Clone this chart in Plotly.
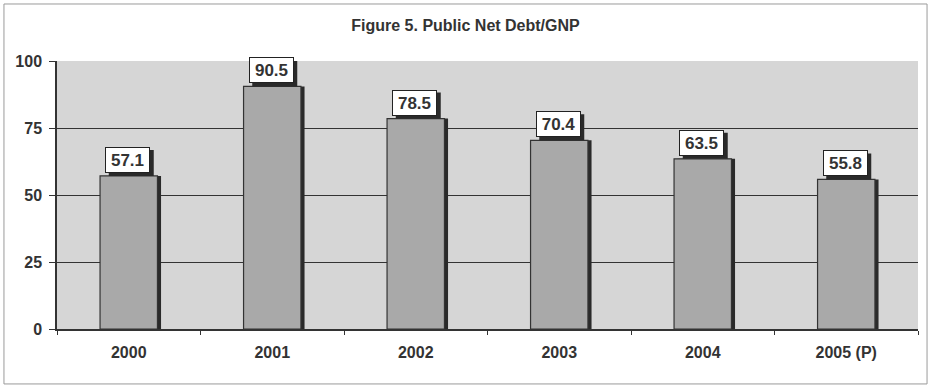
import plotly.graph_objects as go

years = ["2000", "2001", "2002", "2003", "2004", "2005 (P)"]
debt_ratio = [57.1, 90.5, 78.5, 70.4, 63.5, 55.8]
y_ticks = [0, 25, 50, 75, 100]

BAR_W = 0.4
FONT = "Arial, Liberation Sans, sans-serif"
INK = "#333333"
pos = list(range(len(years)))

fig = go.Figure()

# dark offset copy of each bar gives the shaded right edge
fig.add_trace(go.Bar(
    x=pos, y=debt_ratio, width=BAR_W, offset=-BAR_W / 2 + 0.025,
    marker=dict(color="#2a2a2a", line=dict(width=0)),
    hoverinfo="skip", showlegend=False,
))
fig.add_trace(go.Bar(
    x=pos, y=debt_ratio, width=BAR_W, offset=-BAR_W / 2,
    marker=dict(color="#a9a9a9", line=dict(color=INK, width=1.2)),
    showlegend=False,
))

# value boxes above each bar: a dark shadow shape, then a white boxed label
for p, v in zip(pos, debt_ratio):
    fig.add_shape(
        type="rect", xref="x", yref="y", xsizemode="pixel", ysizemode="pixel",
        xanchor=p, yanchor=v, x0=-20, x1=25, y0=0, y1=26,
        fillcolor="#2a2a2a", line=dict(width=0), layer="above",
    )
    fig.add_annotation(
        x=p, y=v, text=f"<b>{v:.1f}</b>", showarrow=False,
        yanchor="bottom", yshift=3, xshift=-1,
        width=43, height=24, borderpad=0, align="center", valign="middle",
        bgcolor="white", bordercolor="#222222", borderwidth=1,
        font=dict(family=FONT, size=17, color=INK),
    )

# thin outer frame around the whole chart
fig.add_shape(
    type="rect", xref="paper", yref="paper",
    x0=-0.0616, x1=1.0105, y0=-0.205, y1=1.2127,
    line=dict(color="#9a9a9a", width=1), layer="below",
)

fig.update_layout(
    width=931, height=388,
    margin=dict(l=57, r=13, t=61, b=59),
    paper_bgcolor="white", plot_bgcolor="#d6d6d6",
    barmode="overlay",
    title=dict(
        text="<b>Figure 5. Public Net Debt/GNP</b>", x=0.5, xanchor="center",
        y=1 - 25 / 388, yanchor="middle",
        font=dict(family=FONT, size=16, color=INK),
    ),
    xaxis=dict(
        range=[-0.5, len(years) - 0.5],
        tickmode="array", tickvals=pos, ticktext=[f"<b>{y}</b>" for y in years],
        ticks="", showgrid=False, zeroline=False,
        showline=True, linecolor=INK, linewidth=1.5,
        minor=dict(tickmode="linear", tick0=-0.5, dtick=1, ticks="outside",
                   ticklen=4, tickcolor=INK, showgrid=False),
        tickfont=dict(family=FONT, size=16, color=INK),
        ticklabelstandoff=8,
    ),
    yaxis=dict(
        range=[0, 100], tickmode="array", tickvals=y_ticks,
        ticktext=[f"<b>{t}</b>" for t in y_ticks],
        ticks="outside", ticklen=6, tickcolor=INK,
        showgrid=True, gridcolor=INK, gridwidth=1.3,
        showline=True, linecolor=INK, linewidth=1.5,
        zeroline=False,
        tickfont=dict(family=FONT, size=16, color=INK),
        ticklabelstandoff=4,
    ),
)

fig.write_html("out.html")
